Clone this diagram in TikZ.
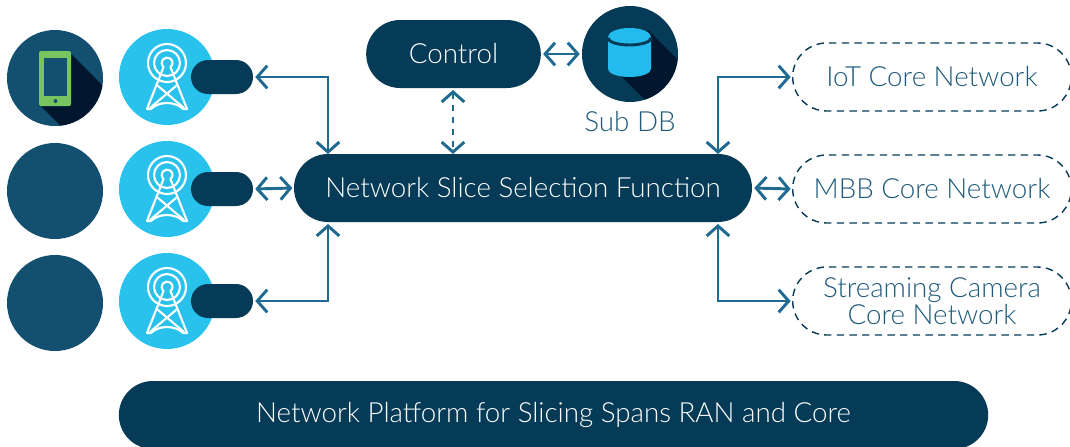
\documentclass[tikz,border=0pt]{standalone}
\usepackage{fontspec}
\setmainfont{Lato}[UprightFont=* Light]
\usetikzlibrary{arrows.meta,shapes.misc}
\definecolor{navy}{HTML}{053B56}
\definecolor{disccol}{HTML}{13506F}
\definecolor{sky}{HTML}{29C2EC}
\definecolor{dbsky}{HTML}{22BBEE}
\definecolor{deepcol}{HTML}{02172E}
\definecolor{link}{HTML}{1F6A90}
\definecolor{phonecol}{HTML}{78C45E}
\definecolor{ink}{HTML}{1E5A7A}
\tikzset{
  pill/.style={rounded rectangle,rounded rectangle arc length=180,fill=navy,text=white,inner sep=0pt,font=\fontsize{20.8}{22}\selectfont},
  ghost/.style={rounded rectangle,rounded rectangle arc length=180,draw=navy,line width=1.05pt,dash pattern=on 5.5pt off 4pt,text=ink,inner sep=0pt,align=center,minimum width=209pt,minimum height=51pt,font=\fontsize{20.8}{20}\selectfont},
  disc/.style={circle,fill=disccol,inner sep=0pt,minimum size=72pt},
  tower/.style={circle,fill=sky,inner sep=0pt,minimum size=72pt},
  stub/.style={pill,minimum width=46.5pt,minimum height=25.5pt},
  conn/.style={draw=link,line width=2.2pt,{Straight Barb[length=7.5pt,width=17pt,line width=2.2pt]}-{Straight Barb[length=7.5pt,width=17pt,line width=2.2pt]}},
  mast/.style={draw=white,line width=1.6pt,line cap=round,line join=round}
}
\newcommand{\towericon}[2]{%
  \begin{scope}[shift={(#1,#2)},mast]
    \draw (0,-14) circle[radius=19];
    \draw (0,-14) circle[radius=13];
    \draw (-3.5,-9.8) arc[start angle=130,end angle=410,radius=5.5];
    \draw (-3.5,-9.8) -- (-20,32) (3.5,-9.8) -- (20,32);
    \draw (-20,32) -- (-16,32) .. controls (-8,24) and (8,24) .. (16,32) -- (20,32);
    \draw (-9,9) -- (17,31) (9,9) -- (-17,31);
  \end{scope}}
\begin{document}
\begin{tikzpicture}[x=0.75pt,y=-0.75pt]
\useasboundingbox (0,0) rectangle (1070,446);
\clip (0,0) rectangle (1070,446);
% left discs
\node[disc] (d1) at (55,78) {};
\node[disc] (d2) at (55,191) {};
\node[disc] (d3) at (55,303) {};
\begin{scope}
  \clip (55,78) circle[radius=48];
  \fill[deepcol] (68,51) -- (115,98) -- (115,140) -- (75,140) -- (39,104) -- cycle;
\end{scope}
\fill[phonecol,rounded corners=1.5pt] (39,51) rectangle (71,106);
\fill[disccol] (43.5,58) rectangle (67,96);
\fill[disccol] (55.5,101) circle[radius=2];
% towers
\node[tower] (t1) at (167,77) {};
\node[tower] (t2) at (167,189) {};
\node[tower] (t3) at (167,301) {};
\towericon{167}{77}
\towericon{167}{189}
\towericon{167}{301}
\node[stub] (s1) at (222,77) {};
\node[stub] (s2) at (222,189) {};
\node[stub] (s3) at (222,301) {};
% main
\node[pill,minimum width=343.5pt,minimum height=51pt] (nssf) at (523,188) {Network Slice Selection Function};
\node[pill,minimum width=131pt,minimum height=51pt] (ctrl) at (453.5,54) {\raisebox{-1pt}{Control}};
\node[circle,fill=navy,inner sep=0pt,minimum size=72pt] (db) at (630,54) {};
\begin{scope}
  \clip (630,54) circle[radius=48];
  \fill[deepcol] (648,30) -- (700,82) -- (700,120) -- (665,120) -- (612,67) -- cycle;
\end{scope}
\fill[dbsky] (608,37) -- (608,69) arc[x radius=21.5,y radius=8,start angle=180,end angle=0] -- (651,37) arc[x radius=21.5,y radius=9,start angle=0,end angle=-180] -- cycle;
\draw[navy,line width=2.2pt] (608,38) arc[x radius=21.5,y radius=7,start angle=180,end angle=0];
\node[text=ink,inner sep=0pt,font=\fontsize{20.8}{22}\selectfont] (sub) at (630,122) {Sub DB};
\node[ghost] (iot) at (932,77) {IoT Core Network};
\node[ghost] (mbb) at (932,189) {MBB Core Network};
\node[ghost] (cam) at (932,301) {Streaming Camera\\Core Network};
\node[pill,minimum width=652pt,minimum height=51pt] (plat) at (553.5,415) {\raisebox{-0.7pt}{Network Platform for Slicing Spans RAN and Core}};
% free ends on the selection function
\coordinate (na) at (328,154);
\coordinate (nb) at (328,222);
\coordinate (nc) at (718,154);
\coordinate (nd) at (718,222);
\coordinate (ne) at (453,154);
\coordinate (cb) at (453,88);
% connectors
\draw[conn,shorten <=1.5pt] (s1.east) -| (na);
\draw[conn,shorten <=1.5pt,shorten >=1pt] (s2.east) -- (nssf.west);
\draw[conn,shorten <=1.5pt,shorten >=1.5pt] (s3.east) -| (nb);
\draw[conn,shorten >=1pt] (nc) |- (iot.west);
\draw[conn,shorten <=1.5pt,shorten >=1pt] (nssf.east) -- (mbb.west);
\draw[conn,shorten <=1.5pt,shorten >=1pt] (nd) |- (cam.west);
\draw[conn,shorten <=1.5pt,shorten >=1.5pt] (ctrl.east) -- (db.west);
\draw[conn,dash pattern=on 4.5pt off 4.5pt,shorten <=1.5pt] (cb) -- (ne);
\end{tikzpicture}
\end{document}
